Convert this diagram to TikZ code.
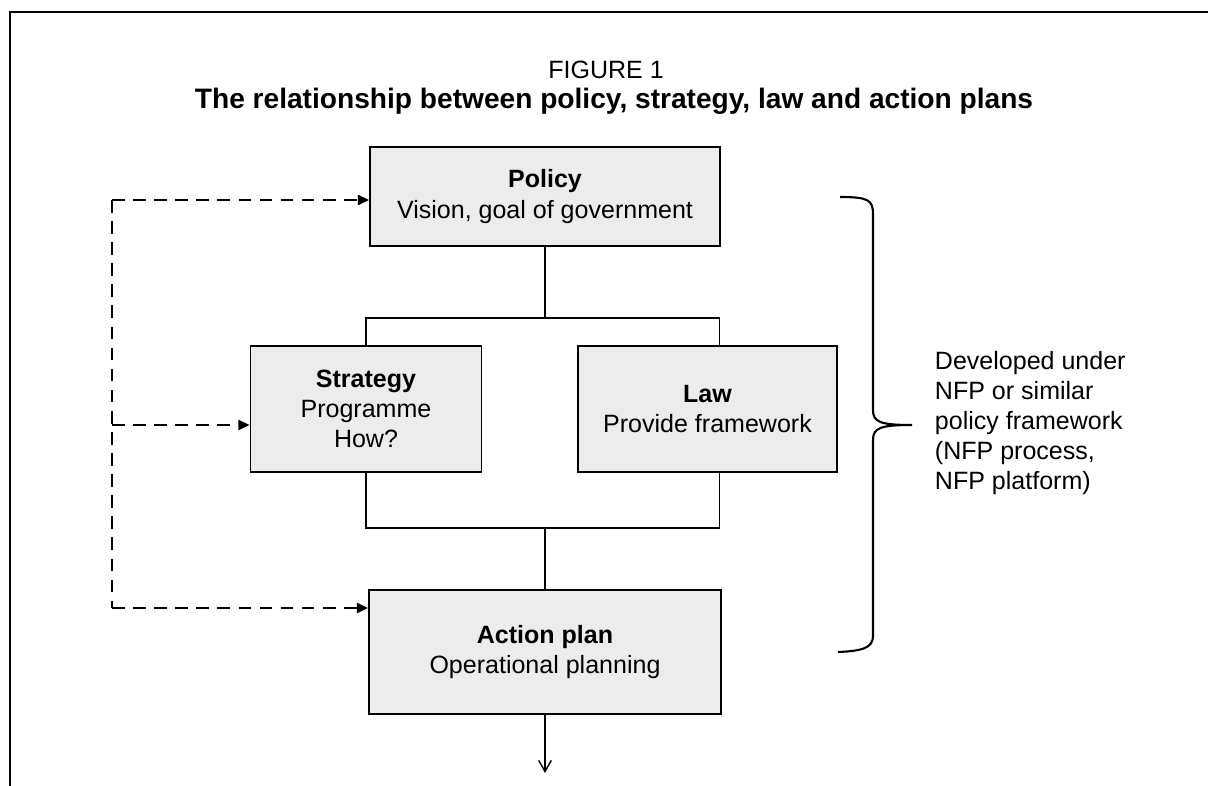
\documentclass[tikz,border=0pt]{standalone}
\usepackage{fontspec}
\setmainfont{Liberation Sans}
\usetikzlibrary{arrows.meta}

\tikzset{
  planbox/.style={draw, line width=1.1pt, fill=gray!15, align=center, inner sep=0pt,
    font=\fontsize{17.8}{21.5}\selectfont},
  feedback/.style={dash pattern=on 9pt off 6pt, line width=1.6pt},
  feedarrow/.style={feedback, -{Triangle[length=8pt,width=7pt]}},
  link/.style={line width=1pt}
}

\begin{document}
\begin{tikzpicture}[x=0.025cm, y=-0.025cm]
\useasboundingbox (0,0) rectangle (1208,786);
% frame
\draw[line width=1.3pt] (10,786) -- (10,12) -- (1208,12);

\node[font=\fontsize{17.8}{21}\selectfont] (fig) at (606,70) {FIGURE 1};
\node[font=\bfseries\fontsize{20}{24}\selectfont] (title) at (614,101) {The relationship between policy, strategy, law and action plans};

\node[planbox, minimum width=8.75cm, minimum height=2.475cm] (policy) at (545,196.5) {\textbf{Policy}\\Vision, goal of government};
\node[planbox, minimum width=5.775cm, minimum height=3.15cm] (strategy) at (366,409) {\textbf{Strategy}\\Programme\\How?};
\node[planbox, minimum width=6.475cm, minimum height=3.15cm] (law) at (707.5,409) {\textbf{Law}\\Provide framework};
\node[planbox, minimum width=8.8cm, minimum height=3.1cm] (action) at (545,652) {\textbf{Action plan}\\Operational planning};

\coordinate (jtop) at (545,318);
\coordinate (jbot) at (545,528);
\draw[link] (policy.south) -- (jtop);
\draw[link] (strategy.north) |- (jtop) -| ([xshift=0.3cm]law.north);
\draw[link] (strategy.south) |- (jbot) -| ([xshift=0.3cm]law.south);
\draw[link] (jbot) -- (action.north);
\coordinate (out) at (545,773);
\draw[link, -{Straight Barb[length=8pt,width=9pt]}] (action.south) -- (out);

% feedback loop
\coordinate (fbtop) at (112,200);
\coordinate (fbmid) at (112,425);
\coordinate (fbbot) at (112,608);
\draw[feedback] (fbtop) -- (fbbot);
\draw[feedarrow] (fbtop) -- (fbtop -| policy.west);
\draw[feedarrow] (fbmid) -- (fbmid -| strategy.west);
\draw[feedarrow] (fbbot) -- (fbbot -| action.west);

% brace
\draw[line width=1.5pt] (840,197) .. controls (868,197) and (873,200) .. (873,214)
  -- (873,410) .. controls (873,422) and (880,425) .. (912,425)
  .. controls (880,425) and (873,428) .. (873,440)
  -- (873,636) .. controls (873,648) and (862,651) .. (838,652);

\node[anchor=west, align=left, font=\fontsize{17.8}{21.2}\selectfont] (note) at (930,423)
  {Developed under\\NFP or similar\\policy framework\\(NFP process,\\NFP platform)};
\end{tikzpicture}
\end{document}
